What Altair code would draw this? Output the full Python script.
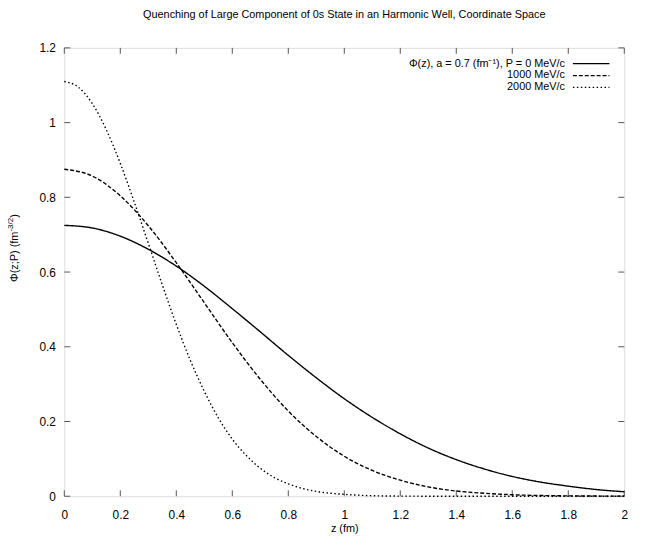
import altair as alt
import pandas as pd

# ---------------- data ----------------
z_p0 = [0.0, 0.1, 0.2, 0.3, 0.4, 0.5, 0.6, 0.7, 0.8, 0.9, 1.0,
        1.1, 1.2, 1.3, 1.4, 1.5, 1.6, 1.7, 1.8, 1.9, 2.0]
phi_p0 = [0.725, 0.718, 0.696, 0.661, 0.616, 0.562, 0.502, 0.440, 0.377, 0.317, 0.261,
          0.211, 0.167, 0.129, 0.098, 0.073, 0.053, 0.038, 0.027, 0.018, 0.012]

z_p1000 = [0.0, 0.1, 0.2, 0.3, 0.4, 0.5, 0.6, 0.7, 0.8, 0.9, 1.0,
           1.1, 1.2, 1.3, 1.4, 1.5, 1.6, 1.7, 1.8, 1.9, 2.0]
phi_p1000 = [0.875, 0.857, 0.804, 0.724, 0.625, 0.518, 0.411, 0.313, 0.228, 0.160, 0.107,
             0.069, 0.043, 0.025, 0.014, 0.008, 0.004, 0.002, 0.001, 0.0005, 0.0002]

z_p2000 = [0.0, 0.05, 0.1, 0.15, 0.2, 0.25, 0.3, 0.35, 0.4, 0.45, 0.5,
           0.55, 0.6, 0.65, 0.7, 0.75, 0.8, 0.85, 0.9, 0.95, 1.0,
           1.1, 1.2, 1.3, 1.4, 1.5, 1.6, 1.7, 1.8, 1.9, 2.0]
phi_p2000 = [1.110, 1.095, 1.051, 0.981, 0.891, 0.787, 0.677, 0.566, 0.460, 0.364, 0.281,
             0.210, 0.153, 0.109, 0.075, 0.050, 0.033, 0.021, 0.013, 0.008, 0.005,
             0.0014, 0.0004, 0.0001, 0.0, 0.0, 0.0, 0.0, 0.0, 0.0, 0.0]

series_names = ["P = 0 MeV/c", "1000 MeV/c", "2000 MeV/c"]
legend_labels = ["Φ(z), a = 0.7 (fm⁻¹), P = 0 MeV/c", "1000 MeV/c", "2000 MeV/c"]
dash_styles = [[1, 0], [4, 2], [1.5, 2.5]]

x_ticks = [0, 0.2, 0.4, 0.6, 0.8, 1.0, 1.2, 1.4, 1.6, 1.8, 2.0]
y_ticks = [0, 0.2, 0.4, 0.6, 0.8, 1.0, 1.2]

title_text = "Quenching of Large Component of 0s State in an Harmonic Well, Coordinate Space"
x_title = "z (fm)"
y_title_main = "Φ(z;P) (fm"
y_title_sup = "-3/2"
y_title_end = ")"

FONT = "Liberation Sans"
W, H = 567, 454

# ---------------- build table ----------------
rows = []
for name, zs, ps in [(series_names[0], z_p0, phi_p0),
                     (series_names[1], z_p1000, phi_p1000),
                     (series_names[2], z_p2000, phi_p2000)]:
    for z, p in zip(zs, ps):
        rows.append({"series": name, "z": z, "phi": p})
df = pd.DataFrame(rows)

xscale = alt.Scale(domain=[0, 2], nice=False, zero=False)
yscale = alt.Scale(domain=[0, 1.2], nice=False, zero=False)
xaxis = alt.Axis(values=x_ticks, format="~g", ticks=False, tickSize=0, domain=False, grid=False,
                 labelFontSize=12, labelPadding=14, labelColor="black",
                 title=x_title, titleFontSize=11, titleFontWeight="normal", titlePadding=2,
                 titleColor="black", labelFlush=False)
yaxis = alt.Axis(values=y_ticks, format="~g", ticks=False, tickSize=0, domain=False, grid=False,
                 labelFontSize=12, labelPadding=9, labelColor="black", title=None)

lines = alt.Chart(df).mark_line(color="black", strokeWidth=1.4, interpolate="monotone").encode(
    x=alt.X("z:Q", scale=xscale, axis=xaxis),
    y=alt.Y("phi:Q", scale=yscale, axis=yaxis),
    strokeDash=alt.StrokeDash("series:N", scale=alt.Scale(domain=series_names, range=dash_styles),
                              legend=None),
    detail="series:N",
)

xt = pd.DataFrame({"t": x_ticks})
yt = pd.DataFrame({"t": y_ticks})
tick_color = "#555"
tb = alt.Chart(xt).mark_rule(color=tick_color, strokeWidth=1).encode(
    x=alt.X("t:Q", scale=xscale, axis=xaxis), y=alt.value(H), y2=alt.value(H - 6))
tt = alt.Chart(xt).mark_rule(color=tick_color, strokeWidth=1).encode(
    x=alt.X("t:Q", scale=xscale, axis=xaxis), y=alt.value(0), y2=alt.value(6))
tl = alt.Chart(yt).mark_rule(color=tick_color, strokeWidth=1).encode(
    y=alt.Y("t:Q", scale=yscale, axis=yaxis), x=alt.value(0), x2=alt.value(6))
tr = alt.Chart(yt).mark_rule(color=tick_color, strokeWidth=1).encode(
    y=alt.Y("t:Q", scale=yscale, axis=yaxis), x=alt.value(W), x2=alt.value(W - 6))

layers = [tb, tt, tl, tr, lines]

# legend (gnuplot style: text right-aligned, sample line to the right)
legend_y = [16, 28, 40]
for lbl, dash, ly in zip(legend_labels, dash_styles, legend_y):
    d = pd.DataFrame({"label": [lbl]})
    layers.append(alt.Chart(d).mark_text(align="right", baseline="middle", fontSize=11,
                                         font=FONT, color="black").encode(
        text="label:N", x=alt.value(507), y=alt.value(ly)))
    layers.append(alt.Chart(d).mark_rule(color="black", strokeWidth=1.3, strokeDash=dash).encode(
        x=alt.value(515), x2=alt.value(552), y=alt.value(ly)))

# y axis title with superscript
yt_df = pd.DataFrame({"a": [y_title_main], "b": [y_title_sup], "c": [y_title_end]})
layers.append(alt.Chart(yt_df).mark_text(angle=270, align="left", baseline="middle", fontSize=11,
                                         font=FONT, color="black").encode(
    text="a:N", x=alt.value(-50), y=alt.value(237)))
layers.append(alt.Chart(yt_df).mark_text(angle=270, align="left", baseline="middle", fontSize=8,
                                         font=FONT, color="black").encode(
    text="b:N", x=alt.value(-54), y=alt.value(186)))
layers.append(alt.Chart(yt_df).mark_text(angle=270, align="left", baseline="middle", fontSize=11,
                                         font=FONT, color="black").encode(
    text="c:N", x=alt.value(-50), y=alt.value(172)))

chart = alt.layer(*layers).properties(
    width=W, height=H,
    autosize=alt.AutoSizeParams(type="none"),
    padding={"left": 57, "top": 37, "right": 22, "bottom": 46},
    title=alt.Title(title_text, fontSize=11, fontWeight="normal", font=FONT, color="black",
                    offset=22, anchor="middle"),
).configure_view(stroke="#333", strokeWidth=1).configure_axis(
    labelFont=FONT, titleFont=FONT
).configure(background="white")

chart.save("out.html", embed_options={"renderer": "svg", "actions": False})
